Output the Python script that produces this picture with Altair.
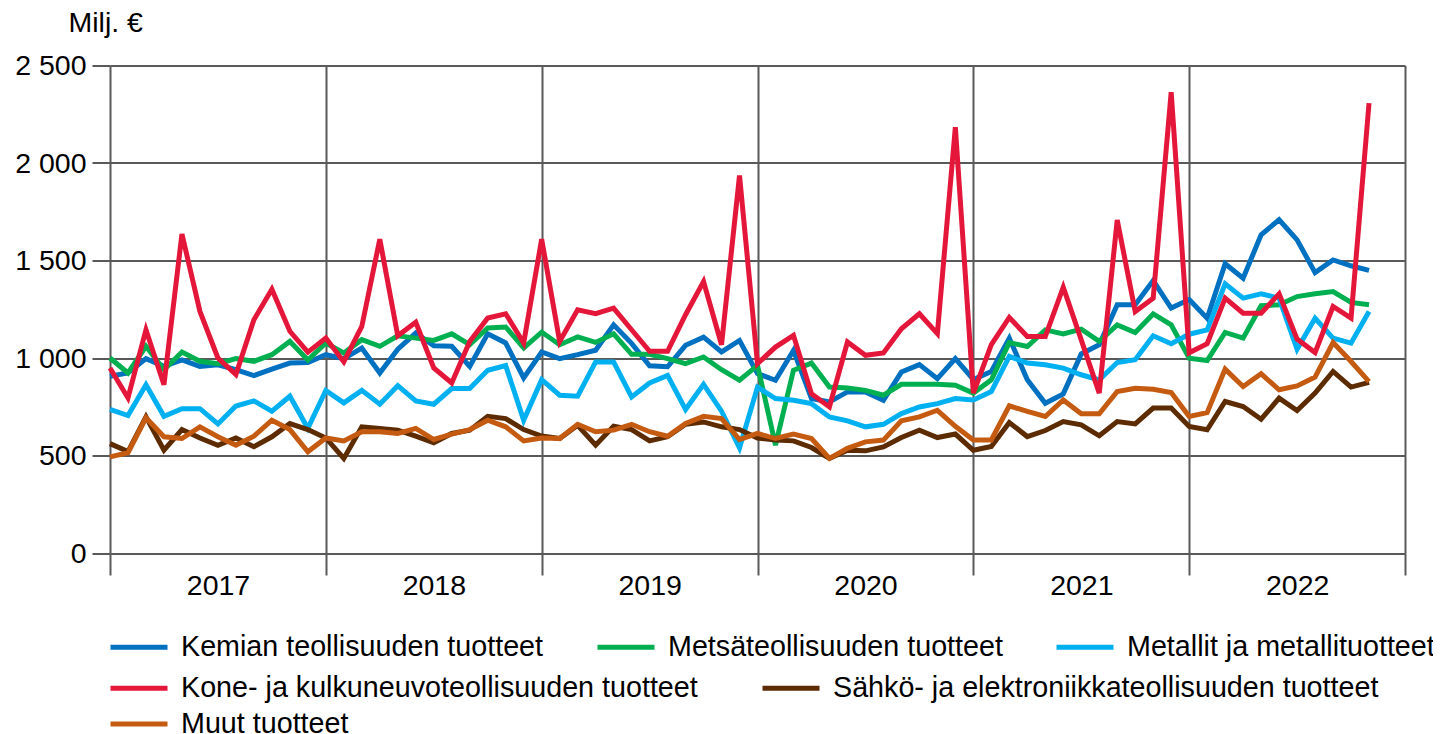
import altair as alt
import pandas as pd

# month index 0 = Jan 2017 ... 70 = Nov 2022
kemian = [906, 923, 997, 957, 990, 957, 965, 940, 910, 943, 974, 977,
          1017, 997, 1051, 923, 1045, 1128, 1063, 1060, 957, 1124, 1077, 898,
          1031, 997, 1017, 1040, 1170, 1075, 960, 955, 1065, 1107, 1031, 1090,
          920, 886, 1039, 792, 775, 826, 826, 783, 928, 966, 894, 997,
          890, 931, 1102, 888, 768, 816, 1021, 1068, 1273, 1273, 1397, 1256,
          1300, 1204, 1483, 1409, 1632, 1709, 1606, 1438, 1503, 1473, 1449]
metsa = [1000, 923, 1060, 940, 1031, 983, 971, 997, 983, 1017, 1085, 990,
         1077, 1026, 1094, 1060, 1114, 1102, 1090, 1124, 1068, 1154, 1159, 1051,
         1133, 1068, 1108, 1080, 1124, 1019, 1019, 997, 971, 1005, 940, 886,
         962, 553, 937, 974, 851, 846, 834, 809, 865, 865, 865, 860,
         820, 888, 1079, 1059, 1144, 1124, 1148, 1085, 1170, 1131, 1226, 1170,
         999, 987, 1131, 1102, 1268, 1273, 1315, 1329, 1341, 1285, 1273]
metallit = [736, 705, 863, 701, 740, 740, 662, 754, 780, 727, 804, 640,
            834, 770, 834, 763, 858, 780, 763, 843, 843, 937, 961, 681,
            889, 809, 804, 980, 980, 800, 872, 911, 736, 865, 727, 539,
            851, 792, 783, 766, 698, 678, 647, 660, 715, 749, 766, 792,
            785, 828, 1008, 974, 965, 948, 914, 888, 977, 991, 1114, 1073,
            1122, 1144, 1380, 1307, 1329, 1307, 1045, 1204, 1102, 1076, 1238]
kone = [949, 795, 1145, 863, 1636, 1239, 1000, 915, 1196, 1353, 1137, 1030,
        1102, 980, 1162, 1609, 1114, 1183, 949, 872, 1085, 1205, 1227, 1077,
        1609, 1085, 1247, 1227, 1256, 1145, 1034, 1034, 1222, 1392, 1068, 1936,
        971, 1056, 1116, 817, 749, 1082, 1014, 1026, 1150, 1227, 1125, 2184,
        820, 1068, 1208, 1110, 1110, 1363, 1093, 820, 1708, 1238, 1307, 2363,
        1027, 1073, 1307, 1230, 1230, 1329, 1097, 1028, 1264, 1204, 2307]
sahko = [561, 520, 698, 527, 633, 590, 552, 590, 545, 596, 664, 633,
         590, 485, 647, 639, 630, 599, 565, 613, 630, 701, 689, 633,
         600, 587, 655, 553, 650, 633, 575, 596, 660, 672, 647, 633,
         590, 579, 575, 541, 485, 527, 524, 544, 592, 630, 592, 610,
         527, 546, 669, 597, 628, 674, 657, 601, 674, 662, 743, 743,
         649, 632, 777, 751, 686, 794, 731, 820, 931, 851, 875]
muut = [493, 514, 693, 596, 587, 647, 596, 553, 599, 681, 633, 519,
        590, 575, 622, 622, 613, 639, 582, 610, 633, 681, 647, 575,
        590, 587, 660, 622, 630, 660, 622, 599, 664, 701, 689, 582,
        613, 587, 610, 587, 485, 537, 570, 579, 678, 698, 732, 650,
        580, 580, 755, 726, 700, 785, 714, 714, 828, 845, 840, 823,
        700, 720, 943, 854, 919, 837, 857, 902, 1079, 982, 879]

names = ["Kemian teollisuuden tuotteet", "Metsäteollisuuden tuotteet",
         "Metallit ja metallituotteet", "Kone- ja kulkuneuvoteollisuuden tuotteet",
         "Sähkö- ja elektroniikkateollisuuden tuotteet", "Muut tuotteet"]
colors = ["#0070C0", "#00B050", "#00B0F0", "#E4173A", "#5C2B00", "#C55A11"]
values = [kemian, metsa, metallit, kone, sahko, muut]

rows = []
for n, vals in zip(names, values):
    for i, v in enumerate(vals):
        rows.append({"month": i, "value": v, "series": n})
df = pd.DataFrame(rows)

FONT = "Liberation Sans"
FS = 28.5
LFS = 28.7
GRID = "#595959"

x_enc = alt.X("month:Q",
              scale=alt.Scale(domain=[0, 72], nice=False, zero=False),
              axis=alt.Axis(values=[0, 12, 24, 36, 48, 60, 72],
                            labelExpr="datum.value < 72 ? format(2017 + datum.value / 12, 'd') : ''",
                            labelOffset=108, labelFlush=False, labelOverlap=False,
                            tickSize=22, tickColor=GRID, tickWidth=2,
                            grid=True, gridColor=GRID, gridWidth=2, gridOpacity=1,
                            domain=False, title=None, labelPadding=-4,
                            labelFont=FONT, labelFontSize=FS, labelColor="black"))
y_enc = alt.Y("value:Q",
              scale=alt.Scale(domain=[0, 2500], nice=False),
              axis=alt.Axis(values=[0, 500, 1000, 1500, 2000, 2500],
                            labelExpr="replace(format(datum.value, ','), ',', ' ')",
                            tickSize=18, tickColor=GRID, tickWidth=2,
                            grid=True, gridColor=GRID, gridWidth=2, gridOpacity=1,
                            domain=False, labelPadding=6,
                            labelFont=FONT, labelFontSize=FS, labelColor="black",
                            title="Milj. €", titleAngle=0, titleX=-42, titleY=-34,
                            titleAlign="left", titleBaseline="alphabetic",
                            titleFont=FONT, titleFontSize=FS, titleFontWeight="normal",
                            titleColor="black"))


def layer(idx, ly, gap):
    sub_names = [names[k] for k in idx]
    sub_colors = [colors[k] for k in idx]
    return alt.Chart(df[df["series"].isin(sub_names)]).mark_line(strokeWidth=5).encode(
        x=x_enc, y=y_enc,
        color=alt.Color("series:N",
                        scale=alt.Scale(domain=sub_names, range=sub_colors),
                        sort=sub_names,
                        legend=alt.Legend(orient="none", legendX=-2, legendY=ly,
                                          direction="horizontal", title=None,
                                          symbolType="stroke", symbolSize=3249,
                                          symbolStrokeWidth=5, labelOffset=11,
                                          columnPadding=gap, padding=0,
                                          labelFont=FONT, labelFontSize=LFS,
                                          labelColor="black", labelLimit=900)),
        detail="series:N")


chart = alt.layer(
    layer([0, 1, 2], 550.5, 43),
    layer([3, 4], 591.5, 54),
    layer([5], 627.5, 40),
).resolve_scale(color="independent").properties(
    width=1295, height=487.5,
    autosize=alt.AutoSizeParams(type="none"),
    padding={"left": 102, "top": 57.5, "right": 28, "bottom": 190},
).configure_view(stroke=None)

chart.save("out.html", embed_options={"renderer": "svg", "actions": False})
